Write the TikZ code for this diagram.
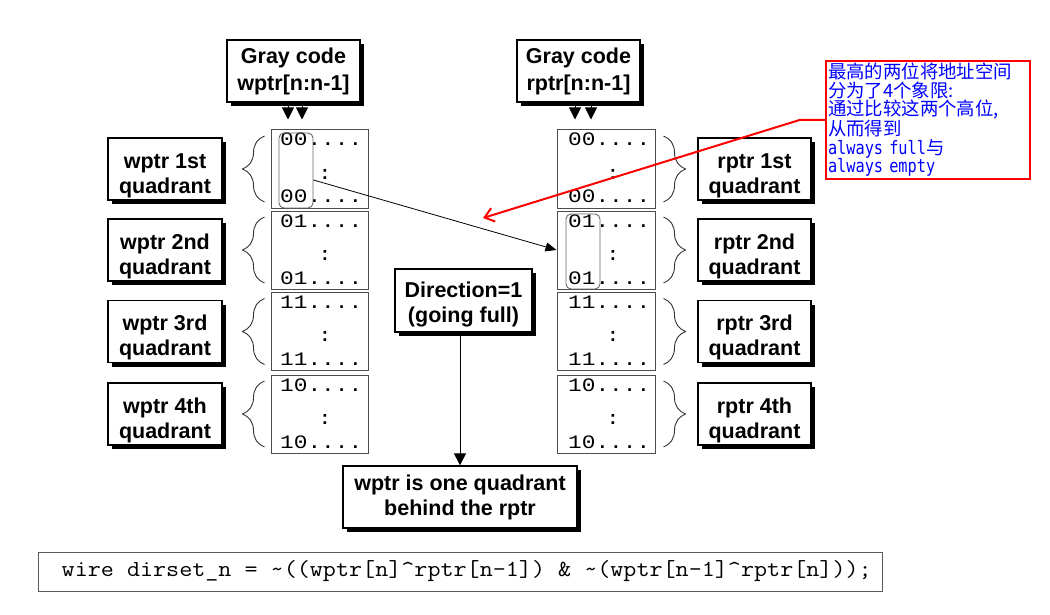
\documentclass[tikz,border=0pt]{standalone}
\usepackage{fontspec}
\usepackage{graphicx}
\setmainfont{Liberation Sans}
\newfontfamily\cjk{Noto Sans CJK SC}
\newfontfamily\memfont[FakeStretch=1.2]{Liberation Mono}
\newfontfamily\annmono[FakeStretch=0.83]{DejaVu Sans Mono}
\newcommand\myst[1]{\rule{0pt}{#1}}
\usetikzlibrary{shadows,decorations.pathreplacing,arrows.meta}
\tikzset{
  lbl/.style={draw=black, line width=1.3pt, fill=white, inner sep=0pt, align=center,
    font=\fontsize{21.5}{25}\selectfont\bfseries,
    drop shadow={shadow xshift=4pt, shadow yshift=-4pt, opacity=1, fill=black}},
  quad/.style={draw=black!70, line width=1pt, minimum width=97pt, minimum height=78pt, inner sep=0pt},
  mem/.style={font=\fontsize{19}{19}\selectfont\memfont, inner sep=0pt, anchor=base west},
  colon/.style={font=\fontsize{19}{19}\selectfont\memfont, inner sep=0pt},
  hl/.style={draw=black!60, rounded corners=5pt, line width=0.9pt, minimum width=34pt, minimum height=75pt, inner sep=0pt},
  brc/.style={decorate, decoration={brace, amplitude=22pt}, draw=black!80, line width=0.9pt},
  arr/.style={-{Triangle[width=12pt,length=12pt]}, line width=1pt},
}
\begin{document}
\begin{tikzpicture}[x=1pt,y=-1pt]
\fill[white] (0,0) rectangle (1050,615);
\useasboundingbox (0,0) rectangle (1050,615);

% Gray code boxes
\node[lbl, minimum width=133pt, minimum height=62pt, font=\fontsize{21.5}{27}\selectfont\bfseries] (gw) at (293.5,71) {Gray code\\wptr[n:n-1]};
\node[lbl, minimum width=123pt, minimum height=62pt, font=\fontsize{21.5}{27}\selectfont\bfseries] (gr) at (578.5,71) {Gray code\\rptr[n:n-1]};

% quadrants
\foreach \i/\c/\v/\o in {1/169/00/1st, 2/250/01/2nd, 3/331.5/11/3rd, 4/414/10/4th}{
  \node[quad] (lq\i) at (319.5,\c) {};
  \node[quad, minimum width=98pt] (rq\i) at (606,\c) {};
  \node[mem] (lt\i) at (280,\c-23) {\v....};
  \node[colon] (lc\i) at (325,\c+5) {:};
  \node[mem] (lb\i) at (280,\c+34) {\v....};
  \node[mem] (rt\i) at (568,\c-23) {\v....};
  \node[colon] (rc\i) at (613,\c+5) {:};
  \node[mem] (rb\i) at (568,\c+34) {\v....};
  \draw[brc] ([xshift=-6pt,yshift=-33pt]lq\i.west) -- ([xshift=-6pt,yshift=33pt]lq\i.west);
  \draw[brc] ([xshift=8pt,yshift=33pt]rq\i.east) -- ([xshift=8pt,yshift=-33pt]rq\i.east);
  \node[lbl, minimum width=114pt, minimum height=62pt] (wl\i) at (165,\c) {\myst{27.7pt}wptr \o\\quadrant};
  \node[lbl, minimum width=113pt, minimum height=62pt] (rl\i) at (754.5,\c) {\myst{27.7pt}rptr \o\\quadrant};
}

% highlight boxes
\node[hl] (lhl) at (296,170.5) {};
\node[hl] (rhl) at (583,251.5) {};

% arrows from gray code
\draw[arr] ([xshift=-5.5pt]gw.south) -- ([xshift=-31.5pt,yshift=10pt]lq1.north);
\draw[arr] ([xshift=8.5pt]gw.south) -- ([xshift=-17.5pt,yshift=10pt]lq1.north);
\draw[arr] ([xshift=-3.5pt]gr.south) -- ([xshift=-31pt,yshift=10pt]rq1.north);
\draw[arr] ([xshift=12.5pt]gr.south) -- ([xshift=-15pt,yshift=10pt]rq1.north);

% connector
\draw[-{Triangle[width=9pt,length=11pt]}, line width=0.8pt] ([yshift=-9.5pt]lhl.east) -- (rq2.west);

% direction
\node[lbl, minimum width=137pt, minimum height=63pt] (dir) at (463.5,300.5) {\myst{22.7pt}Direction=1\\(going full)};
\node[lbl, minimum width=234pt, minimum height=62pt] (wq) at (460,497) {wptr is one quadrant\\behind the rptr};
\draw[arr] (wq.north |- dir.south) -- (wq.north);

% annotation
\node[draw=red, line width=2pt, anchor=north west, inner xsep=2pt, inner ysep=2pt, text=blue,
  text width=200pt, align=left, font=\fontsize{18.4}{18.6}\selectfont\cjk] (ann) at (825,60)
  {最高的两位将地址空间\\分为了4个象限:\\通过比较这两个高位,\\从而得到\\{\annmono\fontsize{18.4}{18.6}\selectfont always full}与\\{\annmono\fontsize{18.4}{18.6}\selectfont always empty}};
\coordinate (redtip) at (483,218);
\draw[red, line width=2pt, -{Straight Barb[length=9pt,width=14pt]}] (ann.west) -- ++(-25,0) -- (redtip);

% code line
\node[draw=black!65, line width=1pt, minimum width=844pt, minimum height=39pt, inner sep=0pt] (code) at (460,571.5) {};
\node[anchor=west, inner sep=0pt, font=\fontsize{23}{23}\selectfont\ttfamily] (codetxt) at ([xshift=24pt]code.west)
  {\resizebox{810pt}{\height}{wire dirset\_n = \textasciitilde((wptr[n]\textasciicircum rptr[n-1]) \& \textasciitilde(wptr[n-1]\textasciicircum rptr[n]));}};
\end{tikzpicture}
\end{document}
